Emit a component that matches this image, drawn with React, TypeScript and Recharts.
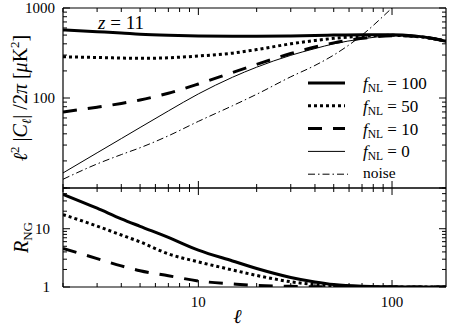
import React from 'react';
import { LineChart, Line, XAxis, YAxis, Legend, Label } from 'recharts';

// multipole values shared by both panels
const ell = [2, 3, 4, 5, 7, 10, 15, 20, 30, 40, 50, 70, 100, 130, 160, 190];

// top panel: l^2 |C_l| / 2pi  [muK^2]
const cl100 = [570, 545, 528, 512, 498, 490, 486, 486, 490, 495, 500, 505, 505, 490, 462, 428];
const cl50 = [287, 282, 278, 276, 280, 293, 315, 345, 400, 435, 460, 485, 497, 485, 460, 428];
const cl10 = [70, 79, 87, 95, 113, 143, 192, 236, 312, 368, 410, 460, 493, 485, 460, 428];
const cl0 = [14.7, 24.6, 35.4, 47, 71.8, 111, 170, 220, 298, 354, 400, 453, 490, 485, 460, 428];
const noise = [12.5, 18.5, 23.5, 28, 38, 55, 82, 110, 172, 230, 300, 500, 1000, 1700, 2600, 3700];

// bottom panel: R_NG
const rng100 = [39, 22.5, 14.8, 11, 7.1, 4.3, 2.8, 2.08, 1.46, 1.22, 1.1, 1.03, 1.01, 1, 1, 1];
const rng50 = [17.5, 11.1, 7.8, 5.95, 3.7, 2.7, 1.96, 1.58, 1.23, 1.1, 1.04, 1.01, 1, 1, 1, 1];
const rng10 = [4.6, 3.07, 2.3, 1.9, 1.56, 1.27, 1.13, 1.06, 1.03, 1.01, 1, 1, 1, 1, 1, 1];

// ticks
const xTicks = [2, 3, 4, 5, 6, 7, 8, 9, 10, 20, 30, 40, 50, 60, 70, 80, 90, 100];
const xLabels = [10, 100];
const topYTicks = [10, 20, 30, 40, 50, 60, 70, 80, 90, 100, 200, 300, 400, 500, 600, 700, 800, 900, 1000];
const topYLabels = [100, 1000];
const botYTicks = [1, 2, 3, 4, 5, 6, 7, 8, 9, 10, 20, 30, 40, 50];
const botYLabels = [1, 10];
const legendNames = ['100', '50', '10', '0', 'noise'];

const topData = ell.map((l, i) => ({ ell: l, c100: cl100[i], c50: cl50[i], c10: cl10[i], c0: cl0[i], noise: noise[i] }));
const botData = ell.map((l, i) => ({ ell: l, r100: rng100[i], r50: rng50[i], r10: rng10[i] }));

const FONT = "'Liberation Serif', 'Times New Roman', serif";
const txt = { fontFamily: FONT };

const styles: Record<string, { w: number; dash?: string }> = {
  '100': { w: 3 },
  '50': { w: 3, dash: '3 3' },
  '10': { w: 3, dash: '14 11' },
  '0': { w: 1 },
  noise: { w: 1, dash: '7 3 1.5 3' },
};

const isMajor = (v: number) => Math.abs(Math.log10(v) - Math.round(Math.log10(v))) < 1e-9;

const xTick = (side: 'bottom' | 'top', labels: number[]) => (props: any) => {
  const { x, y, payload } = props;
  const v = payload.value;
  const len = isMajor(v) ? 7 : 4;
  const dir = side === 'bottom' ? -1 : 1;
  return (
    <g>
      <line x1={x} x2={x} y1={y} y2={y + dir * len} stroke="#000" strokeWidth={1} />
      {labels.includes(v) && (
        <text x={x} y={y + 20} textAnchor="middle" style={txt} fontSize={15} fill="#000">
          {v}
        </text>
      )}
    </g>
  );
};

const yTick = (side: 'left' | 'right', labels: number[], gap: number) => (props: any) => {
  const { x, y, payload } = props;
  const v = payload.value;
  const len = isMajor(v) ? 7 : 4;
  const dir = side === 'left' ? 1 : -1;
  return (
    <g>
      <line x1={x} x2={x + dir * len} y1={y} y2={y} stroke="#000" strokeWidth={1} />
      {labels.includes(v) && (
        <text x={x - gap} y={y} dy={5} textAnchor="end" style={txt} fontSize={15} fill="#000">
          {v}
        </text>
      )}
    </g>
  );
};

const TopYLabel = (props: any) => {
  const vb = props.viewBox || { x: 0, y: 0, width: 63, height: 188 };
  const cy = vb.y + vb.height / 2;
  return (
    <text transform={`translate(27,${cy}) rotate(-90)`} textAnchor="middle" style={txt} fontSize={20} fill="#000">
      <tspan fontStyle="italic">ℓ</tspan>
      <tspan dy={-8} fontSize={13}>2</tspan>
      <tspan dy={8}> |</tspan>
      <tspan fontStyle="italic">C</tspan>
      <tspan dy={4} fontSize={13} fontStyle="italic">ℓ</tspan>
      <tspan dy={-4}>| /2</tspan>
      <tspan fontStyle="italic">π</tspan>
      <tspan>  [</tspan>
      <tspan fontStyle="italic">μ</tspan>
      <tspan>K</tspan>
      <tspan dy={-8} fontSize={13}>2</tspan>
      <tspan dy={8}>]</tspan>
    </text>
  );
};

const BotYLabel = (props: any) => {
  const vb = props.viewBox || { x: 0, y: 12, width: 63, height: 99 };
  const cy = vb.y + vb.height / 2;
  return (
    <text transform={`translate(28,${cy}) rotate(-90)`} textAnchor="middle" style={txt} fontSize={20} fill="#000">
      <tspan fontStyle="italic">R</tspan>
      <tspan dy={4} fontSize={13}>NG</tspan>
    </text>
  );
};

const XLabel = (props: any) => {
  const vb = props.viewBox || { x: 63, y: 111, width: 383, height: 40 };
  return (
    <text x={vb.x + vb.width / 2 - 17} y={vb.y + 36} textAnchor="middle" style={txt} fontSize={20} fontStyle="italic" fill="#000">
      ℓ
    </text>
  );
};

const renderLegend = () => (
  <svg width={150} height={120}>
    {legendNames.map((n, i) => {
      const y = 10 + i * 22.8;
      const s = styles[n];
      return (
        <g key={n}>
          <line x1={0} x2={n === 'noise' ? 40 : 37} y1={y} y2={y} stroke="#000" strokeWidth={s.w} strokeDasharray={s.dash} />
          {n === 'noise' ? (
            <text x={55} y={y + 4} style={txt} fontSize={15.5} fill="#000">noise</text>
          ) : (
            <text x={55} y={y + 6} style={txt} fontSize={17} fill="#000">
              <tspan fontStyle="italic">f</tspan>
              <tspan dy={3} fontSize={11.5}>NL</tspan>
              <tspan dy={-3}> = {n}</tspan>
            </text>
          )}
        </g>
      );
    })}
  </svg>
);

const axisLine = { stroke: '#000', strokeWidth: 1.2 };

export default function App() {
  return (
    <div style={{ position: 'absolute', left: 0, top: 0, width: 450, height: 327, background: '#fff', fontFamily: FONT }}>
      <div style={{ position: 'absolute', left: 0, top: 0 }}>
        <LineChart width={450} height={200} data={topData} margin={{ top: 0, right: 0, bottom: 0, left: 0 }}>
          <XAxis xAxisId="b" dataKey="ell" type="number" scale="log" domain={[2, 190]} allowDataOverflow
            ticks={xTicks} interval={0} tickSize={0} tickMargin={0} height={12} axisLine={axisLine} tick={xTick('bottom', [])} />
          <XAxis xAxisId="t" orientation="top" dataKey="ell" type="number" scale="log" domain={[2, 190]} allowDataOverflow
            ticks={xTicks} interval={0} tickSize={0} tickMargin={0} height={8} axisLine={axisLine} tick={xTick('top', [])} />
          <YAxis yAxisId="l" type="number" scale="log" domain={[10, 1000]} allowDataOverflow
            ticks={topYTicks} interval={0} tickSize={0} tickMargin={0} width={63} axisLine={axisLine} tick={yTick('left', topYLabels, 8)}>
            <Label content={TopYLabel} />
          </YAxis>
          <YAxis yAxisId="r" orientation="right" type="number" scale="log" domain={[10, 1000]} allowDataOverflow
            ticks={topYTicks} interval={0} tickSize={0} tickMargin={0} width={4} axisLine={axisLine} tick={yTick('right', [], 0)} />
          <Line xAxisId="b" yAxisId="l" dataKey="noise" type="monotone" stroke="#000" strokeWidth={styles.noise.w} strokeDasharray={styles.noise.dash} dot={false} isAnimationActive={false} />
          <Line xAxisId="b" yAxisId="l" dataKey="c0" type="monotone" stroke="#000" strokeWidth={styles['0'].w} dot={false} isAnimationActive={false} />
          <Line xAxisId="b" yAxisId="l" dataKey="c10" type="monotone" stroke="#000" strokeWidth={styles['10'].w} strokeDasharray={styles['10'].dash} dot={false} isAnimationActive={false} />
          <Line xAxisId="b" yAxisId="l" dataKey="c50" type="monotone" stroke="#000" strokeWidth={styles['50'].w} strokeDasharray={styles['50'].dash} dot={false} isAnimationActive={false} />
          <Line xAxisId="b" yAxisId="l" dataKey="c100" type="monotone" stroke="#000" strokeWidth={styles['100'].w} dot={false} isAnimationActive={false} />
          <text x={121} y={29} textAnchor="middle" style={txt} fontSize={19} fill="#000">
            <tspan fontStyle="italic">z</tspan> = 11
          </text>
          <Legend layout="vertical" align="center" verticalAlign="middle" content={renderLegend}
            wrapperStyle={{ left: 308, top: 73, width: 150, height: 120 }} />
        </LineChart>
      </div>
      <div style={{ position: 'absolute', left: 0, top: 176 }}>
        <LineChart width={450} height={151} data={botData} margin={{ top: 0, right: 0, bottom: 0, left: 0 }}>
          <XAxis xAxisId="b" dataKey="ell" type="number" scale="log" domain={[2, 190]} allowDataOverflow
            ticks={xTicks} interval={0} tickSize={0} tickMargin={0} height={40} axisLine={axisLine} tick={xTick('bottom', xLabels)}>
            <Label content={XLabel} />
          </XAxis>
          <XAxis xAxisId="t" orientation="top" dataKey="ell" type="number" scale="log" domain={[2, 190]} allowDataOverflow
            ticks={xTicks} interval={0} tickSize={0} tickMargin={0} height={12} axisLine={axisLine} tick={xTick('top', [])} />
          <YAxis yAxisId="l" type="number" scale="log" domain={[1, 50]} allowDataOverflow
            ticks={botYTicks} interval={0} tickSize={0} tickMargin={0} width={63} axisLine={axisLine} tick={yTick('left', botYLabels, 13)}>
            <Label content={BotYLabel} />
          </YAxis>
          <YAxis yAxisId="r" orientation="right" type="number" scale="log" domain={[1, 50]} allowDataOverflow
            ticks={botYTicks} interval={0} tickSize={0} tickMargin={0} width={4} axisLine={axisLine} tick={yTick('right', [], 0)} />
          <Line xAxisId="b" yAxisId="l" dataKey="r10" type="monotone" stroke="#000" strokeWidth={styles['10'].w} strokeDasharray={styles['10'].dash} dot={false} isAnimationActive={false} />
          <Line xAxisId="b" yAxisId="l" dataKey="r50" type="monotone" stroke="#000" strokeWidth={styles['50'].w} strokeDasharray={styles['50'].dash} dot={false} isAnimationActive={false} />
          <Line xAxisId="b" yAxisId="l" dataKey="r100" type="monotone" stroke="#000" strokeWidth={styles['100'].w} dot={false} isAnimationActive={false} />
        </LineChart>
      </div>
    </div>
  );
}
